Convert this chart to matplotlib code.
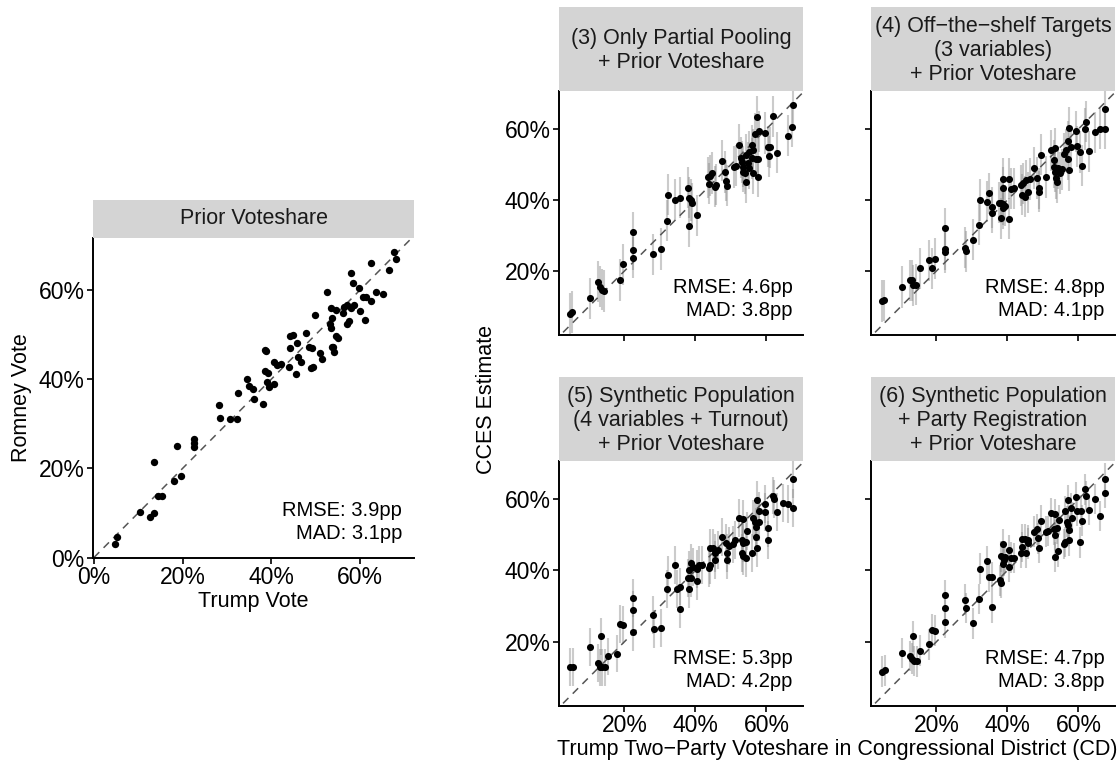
import matplotlib
matplotlib.use('Agg')
import matplotlib.pyplot as plt
from matplotlib.ticker import FuncFormatter, FixedLocator
import numpy as np

plt.rcParams['font.family'] = ['Liberation Sans', 'DejaVu Sans']

# ---------------- data ----------------
prior_x = [4.8, 5.3, 10.3, 12.7, 13.5, 13.5, 14.5, 15.4, 18.1, 18.8, 19.7, 22.6, 22.6, 22.6,
           28.2, 28.4, 30.6, 32.2, 32.6, 34.6, 35.0, 35.9, 36.1, 38.2, 38.6, 38.9, 38.6, 39.2,
           39.1, 39.4, 40.6, 40.6, 41.2, 42.2, 43.9, 44.2, 44.8, 44.2, 45.7, 45.5, 46.1, 46.7,
           47.8, 48.6, 49.3, 48.9, 49.5, 49.9, 51.0, 51.5, 52.6, 53.4, 53.2, 53.5, 53.8, 53.6,
           54.0, 54.1, 54.7, 54.7, 55.0, 56.2, 56.4, 57.0, 57.2, 57.6, 57.9, 58.4, 57.9, 58.7,
           59.9, 60.0, 60.8, 61.4, 61.1, 62.4, 62.5, 63.6, 65.1, 66.5, 67.8, 68.1]
prior_y = [3.1, 4.7, 10.3, 9.2, 10.1, 21.5, 13.9, 13.9, 17.2, 25.0, 18.4, 26.5, 25.6, 24.7,
           34.2, 31.3, 31.2, 31.0, 37.0, 40.1, 38.5, 37.9, 35.5, 34.4, 46.6, 46.4, 41.9, 41.3,
           39.3, 38.3, 38.9, 43.9, 43.2, 43.5, 42.8, 49.6, 49.9, 47.1, 48.2, 41.2, 45.1, 43.9,
           50.3, 47.3, 47.1, 42.6, 42.7, 54.5, 46.0, 44.5, 59.5, 56.1, 52.4, 51.6, 53.7, 47.3,
           47.2, 46.2, 55.5, 49.6, 49.2, 54.8, 56.3, 56.7, 52.5, 53.1, 63.8, 61.7, 56.1, 56.7,
           60.5, 55.3, 58.5, 58.5, 53.4, 66.1, 57.6, 59.6, 59.1, 64.5, 68.5, 67.1]

p3_x = [4.8, 5.3, 10.2, 12.6, 13.2, 13.7, 14.4, 18.7, 19.6, 22.5, 22.5, 22.5, 28.2, 30.4,
        32.0, 32.4, 34.3, 35.7, 37.9, 38.2, 38.3, 38.8, 39.1, 40.4, 43.6, 44.0, 43.9, 45.5,
        45.8, 44.7, 47.5, 48.4, 48.6, 48.9, 50.9, 51.5, 52.2, 53.1, 53.3, 53.5, 53.9, 54.3,
        54.3, 55.8, 56.3, 56.0, 57.1, 57.5, 56.2, 57.5, 56.8, 57.8, 57.4, 59.5, 60.5, 61.0,
        60.7, 61.9, 63.0, 66.1, 67.3, 67.6, 54.8, 55.2, 55.0, 52.8]
p3_y = [8.0, 8.5, 12.3, 17.0, 15.6, 14.8, 14.4, 17.5, 21.9, 30.9, 26.0, 23.8, 24.7, 26.2,
        34.2, 41.5, 40.0, 40.7, 43.5, 32.6, 40.7, 40.0, 39.1, 35.7, 46.4, 46.9, 44.6, 43.7,
        44.3, 47.6, 51.1, 47.9, 45.4, 44.0, 49.3, 49.7, 55.6, 50.7, 49.4, 48.0, 47.6, 45.0,
        52.8, 55.4, 54.1, 51.8, 51.6, 51.6, 47.5, 46.6, 58.7, 59.3, 63.5, 58.9, 55.0, 54.9,
        52.3, 63.6, 53.3, 58.1, 60.6, 66.7, 50.5, 49.0, 53.5, 51.9]

p4_x = [4.8, 5.3, 10.2, 12.5, 13.1, 13.5, 14.4, 15.3, 17.9, 18.7, 19.6, 22.5, 22.5, 22.5,
        28.2, 28.3, 30.4, 32.0, 32.4, 34.3, 34.8, 35.7, 35.7, 37.7, 38.3, 38.9, 39.3, 38.2,
        38.8, 40.4, 38.8, 40.4, 38.8, 41.0, 41.9, 43.7, 44.4, 44.0, 44.9, 45.8, 45.2, 46.3,
        47.5, 48.4, 48.8, 48.8, 49.6, 51.0, 52.3, 53.3, 53.0, 53.0, 53.5, 54.3, 53.8, 54.0,
        56.0, 56.6, 57.1, 57.4, 57.2, 57.3, 58.0, 59.4, 59.7, 60.4, 60.9, 61.9, 62.0, 63.0,
        64.6, 66.2, 67.4, 67.6, 55.5, 54.8]
p4_y = [11.6, 11.8, 15.5, 17.4, 17.4, 16.0, 16.2, 20.8, 23.0, 20.8, 23.5, 32.0, 26.2, 25.3,
        26.6, 25.6, 28.8, 33.0, 40.0, 39.5, 41.9, 37.9, 36.4, 39.2, 39.3, 38.8, 38.4, 34.9,
        37.7, 34.7, 46.0, 46.0, 43.5, 43.2, 43.3, 44.1, 44.7, 41.5, 40.9, 42.2, 45.6, 45.9,
        49.0, 46.2, 43.3, 42.4, 52.8, 46.5, 54.0, 54.6, 51.2, 49.3, 48.0, 49.0, 46.2, 45.0,
        53.0, 54.2, 56.5, 60.3, 51.5, 48.4, 55.0, 59.3, 55.1, 53.5, 49.7, 60.0, 62.0, 53.7,
        59.1, 60.1, 60.1, 65.7, 48.6, 47.6]

p5_x = [4.8, 5.5, 10.2, 12.6, 13.1, 13.7, 14.5, 13.4, 15.3, 17.9, 18.7, 19.6, 22.5, 22.5,
        22.5, 28.2, 28.3, 30.4, 32.0, 32.4, 34.3, 34.8, 35.7, 35.8, 37.9, 38.8, 38.3, 38.3,
        39.3, 38.8, 40.4, 40.4, 41.1, 41.9, 43.7, 44.0, 44.0, 44.9, 45.4, 46.3, 45.4, 47.5,
        48.5, 49.6, 48.8, 48.8, 50.5, 51.2, 52.2, 53.3, 53.0, 53.3, 54.3, 53.0, 53.4, 54.3,
        54.5, 56.0, 56.2, 56.8, 57.1, 58.0, 57.2, 57.4, 57.4, 58.0, 59.5, 59.5, 60.4, 60.4,
        61.8, 62.1, 63.0, 64.6, 66.2, 67.4, 67.6]
p5_y = [12.9, 12.9, 18.6, 14.0, 12.8, 12.8, 12.8, 21.5, 15.9, 16.7, 25.0, 24.8, 32.3, 29.0,
        22.8, 27.6, 23.6, 23.9, 34.9, 38.8, 41.6, 34.7, 35.5, 29.2, 37.9, 37.9, 34.7, 40.2,
        41.0, 42.1, 37.0, 40.5, 41.6, 41.5, 40.7, 41.6, 46.2, 46.2, 44.8, 45.7, 42.9, 49.3,
        47.6, 46.9, 44.9, 42.9, 47.3, 48.5, 54.8, 54.4, 48.5, 47.6, 48.0, 44.8, 44.1, 43.5,
        51.1, 44.8, 54.6, 53.7, 52.3, 53.7, 49.5, 46.2, 59.7, 56.8, 58.7, 56.5, 51.8, 48.5,
        61.0, 60.1, 56.3, 58.9, 58.7, 57.5, 65.6]

p6_x = [4.8, 5.5, 10.2, 12.5, 13.1, 13.7, 14.5, 13.4, 15.3, 17.9, 18.7, 19.6, 22.5, 22.5,
        22.5, 28.2, 28.3, 30.4, 32.0, 32.4, 34.3, 34.8, 35.7, 35.8, 37.9, 38.3, 38.3, 39.3,
        38.8, 38.8, 39.1, 40.4, 40.4, 41.1, 41.9, 43.7, 44.0, 44.0, 44.9, 45.8, 45.2, 45.8,
        47.5, 48.4, 48.7, 48.8, 49.6, 50.8, 51.5, 52.2, 53.3, 53.0, 53.3, 54.1, 53.4, 54.3,
        54.5, 55.8, 56.2, 56.2, 57.1, 56.8, 57.1, 57.4, 57.4, 58.0, 58.2, 59.5, 60.7, 59.4,
        60.4, 60.9, 61.9, 62.0, 63.0, 64.6, 66.2, 67.4, 67.6]
p6_y = [11.6, 12.0, 16.9, 16.0, 15.3, 14.6, 14.5, 21.5, 17.5, 19.3, 23.4, 23.1, 33.0, 29.5,
        25.5, 31.8, 29.5, 25.2, 32.0, 40.5, 42.6, 38.2, 38.2, 29.7, 37.2, 36.6, 44.0, 43.8,
        47.4, 41.9, 42.8, 45.7, 41.0, 43.6, 43.5, 45.0, 46.6, 48.8, 48.8, 48.5, 45.0, 47.6,
        50.9, 51.5, 49.0, 46.4, 54.0, 50.9, 51.1, 56.0, 55.8, 51.5, 49.9, 51.8, 43.8, 45.4,
        54.2, 47.4, 48.0, 56.7, 52.8, 53.7, 59.8, 51.3, 48.5, 57.5, 54.8, 56.7, 56.8, 60.5,
        47.9, 54.0, 62.8, 60.8, 57.0, 60.0, 55.3, 61.7, 65.7]

# half-widths of the uncertainty intervals (pp), read approximately per panel
p3_err = 5.8
p4_err = 5.8
p5_err = 5.3
p6_err = 4.3

panel_titles = ["(3) Only Partial Pooling\n+ Prior Voteshare",
                "(4) Off\u2212the\u2212shelf Targets\n(3 variables)\n+ Prior Voteshare",
                "(5) Synthetic Population\n(4 variables + Turnout)\n+ Prior Voteshare",
                "(6) Synthetic Population\n+ Party Registration\n+ Prior Voteshare"]
panel_stats = [("RMSE: 4.6pp", "MAD: 3.8pp"), ("RMSE: 4.8pp", "MAD: 4.1pp"),
               ("RMSE: 5.3pp", "MAD: 4.2pp"), ("RMSE: 4.7pp", "MAD: 3.8pp")]
prior_title = "Prior Voteshare"
prior_stats = ("RMSE: 3.9pp", "MAD: 3.1pp")

# ---------------- figure ----------------
W, H = 1119, 765
fig = plt.figure(figsize=(W / 100, H / 100), dpi=100)

def ax_px(l, t, r, b, **kw):
    return fig.add_axes([l / W, 1 - b / H, (r - l) / W, (b - t) / H], **kw)

FS_TICK = 16.5
FS_STRIP = 15.5
FS_LAB = 15.5
FS_ANN = 14.5
STRIP_COL = '#d4d4d4'
pct = FuncFormatter(lambda v, p: f'{v:.0f}%')

def style(ax, ticks, showx, showy):
    for s in ['top', 'right']:
        ax.spines[s].set_visible(False)
    for s in ['left', 'bottom']:
        ax.spines[s].set_linewidth(1.4)
        ax.spines[s].set_color('black')
    ax.xaxis.set_major_locator(FixedLocator(ticks))
    ax.yaxis.set_major_locator(FixedLocator(ticks))
    ax.xaxis.set_major_formatter(pct)
    ax.yaxis.set_major_formatter(pct)
    ax.tick_params(length=4.5, width=1.2, labelsize=FS_TICK, colors='black', pad=1.5,
                   labelbottom=showx, labelleft=showy)
    ax.set_facecolor('white')

def strip(l, t, r, b, text, dy=0.0):
    sa = ax_px(l, t, r, b)
    sa.set_facecolor(STRIP_COL)
    for s in sa.spines.values():
        s.set_visible(False)
    sa.set_xticks([]); sa.set_yticks([])
    sa.text(0.5, 0.5 + dy, text, ha='center', va='center', fontsize=FS_STRIP,
            color='#1a1a1a', linespacing=1.2, transform=sa.transAxes, clip_on=False)

def diag(ax):
    ax.plot([0, 80], [0, 80], color='#555555', lw=1.1, dashes=(5, 4), zorder=2)

# ---- left panel ----
axL = ax_px(93, 238, 414, 558)
diag(axL)
axL.scatter(prior_x, prior_y, s=28, color='black', linewidths=0, zorder=3)
axL.set_xlim(-0.2, 72.2)
axL.set_ylim(-0.1, 71.7)
style(axL, [0, 20, 40, 60], True, True)
axL.set_xlabel('Trump Vote', fontsize=FS_LAB, labelpad=1)
axL.set_ylabel('Romney Vote', fontsize=FS_LAB, labelpad=5)
axL.text(0.963, 0.147, prior_stats[0], ha='right', va='center', fontsize=FS_ANN,
         transform=axL.transAxes)
axL.text(0.963, 0.078, prior_stats[1], ha='right', va='center', fontsize=FS_ANN,
         transform=axL.transAxes)
strip(93, 200, 414, 238, prior_title)

# ---- right panels ----
boxes = [(559, 91, 803, 335), (871, 91, 1115, 335),
         (559, 461, 803, 706), (871, 461, 1115, 706)]
strip_tops = [7, 7, 377, 377]
xs = [p3_x, p4_x, p5_x, p6_x]
ys = [p3_y, p4_y, p5_y, p6_y]
errs = [p3_err, p4_err, p5_err, p6_err]
for i in range(4):
    l, t, r, b = boxes[i]
    ax = ax_px(l, t, r, b)
    x = np.array(xs[i]); y = np.array(ys[i])
    ax.vlines(x, y - errs[i], y + errs[i], color='#8c8c8c', alpha=0.45, lw=1.5, zorder=1)
    diag(ax)
    ax.scatter(x, y, s=26, color='black', linewidths=0, zorder=3)
    ax.set_xlim(1.6, 70.3)
    ax.set_ylim(2.0, 70.7)
    style(ax, [20, 40, 60], i >= 2, i % 2 == 0)
    ax.text(0.958, 0.193, panel_stats[i][0], ha='right', va='center', fontsize=FS_ANN,
            transform=ax.transAxes)
    ax.text(0.958, 0.100, panel_stats[i][1], ha='right', va='center', fontsize=FS_ANN,
            transform=ax.transAxes)
    strip(l, strip_tops[i], r, t, panel_titles[i], dy=-0.02)

fig.text(486 / W, 1 - 399 / H, 'CCES Estimate', rotation=90, ha='center', va='center',
         fontsize=FS_LAB)
fig.text(837 / W, 1 - 750 / H,
         'Trump Two\u2212Party Voteshare in Congressional District (CD)',
         ha='center', va='center', fontsize=FS_LAB)

fig.savefig('out.png', dpi=100, facecolor='white')
